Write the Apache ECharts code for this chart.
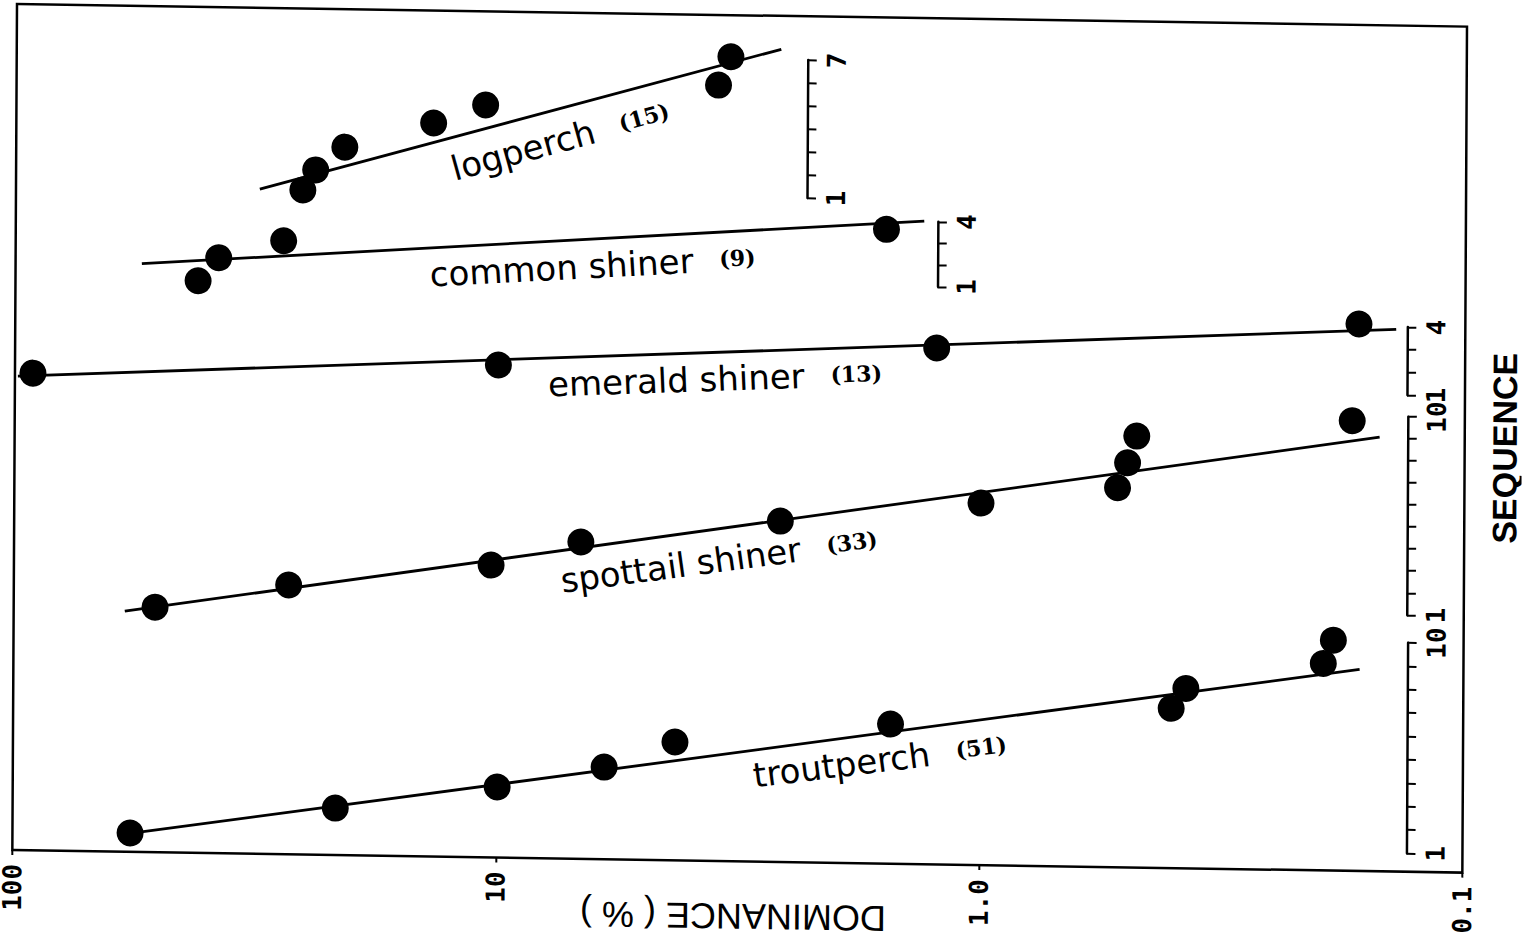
<!DOCTYPE html>
<html><head><meta charset="utf-8">
<script src="https://cdn.jsdelivr.net/npm/echarts@6/dist/echarts.min.js"></script>
<style>
html,body{margin:0;padding:0;background:#fff;overflow:hidden}
#c{width:1524px;height:942px;transform-origin:17px 4px;transform:matrix(1,0.0156,-0.0055,1,0,0)}
</style></head><body><div id="c"></div>
<script>
// ---- data ----
const dominanceTicks = [0.1, 1, 10, 100];
const dominanceTickLabels = ['0.1', '1.0', '10', '100'];
const speciesNames = ['logperch', 'common shiner', 'emerald shiner', 'spottail shiner', 'troutperch'];
const sampleCounts = ['(15)', '(9)', '(13)', '(33)', '(51)'];
const sequenceMax = [7, 4, 4, 10, 10];

const logperchDominance = [3.33, 3.53, 10.7, 13.7, 20.9, 24.0, 25.5];
const logperchSequence  = [7.09, 5.85, 4.83, 4.01, 2.90, 1.89, 1.01];
const logperchFitDominance = [31.3, 2.62];
const logperchFitSequence  = [1.02, 7.45];

const commonShinerDominance = [1.58, 27.9, 38.0, 41.9];
const commonShinerSequence  = [3.61, 2.65, 1.82, 0.74];
const commonShinerFitDominance = [54.8, 1.32];
const commonShinerFitSequence  = [1.49, 4.02];

const emeraldShinerDominance = [0.166, 1.24, 10.0, 91.8];
const emeraldShinerSequence  = [4.10, 2.75, 1.70, 1.02];
const emeraldShinerFitDominance = [98.6, 0.139];
const emeraldShinerFitSequence  = [0.88, 3.89];

const spottailShinerDominance = [0.171, 0.477, 0.498, 0.522, 1.0, 2.60, 6.72, 10.3, 27.0, 51.0];
const spottailShinerSequence  = [9.78, 8.93, 7.71, 6.57, 5.78, 4.82, 3.73, 2.62, 1.57, 0.47];
const spottailShinerFitDominance = [58.9, 0.150];
const spottailShinerFitSequence  = [0.27, 9.05];

const troutperchDominance = [0.186, 0.195, 0.375, 0.402, 1.53, 4.27, 5.98, 9.95, 21.5, 57.1];
const troutperchSequence  = [10.06, 9.06, 7.90, 7.04, 6.18, 5.27, 4.15, 3.23, 2.22, 1.02];
const troutperchFitDominance = [57.1, 0.164];
const troutperchFitSequence  = [1.0, 8.83];

// ---- layout (positions, not data) ----
const gridTops    = [47.7, 207.3, 305.3, 395.0, 621.0];
const gridHeights = [138.0, 65.0, 68.0, 198.3, 210.6];
const axisOffsets = [-659, -528, -58, -57, -56];
const labelPos    = [[561, 131.5], [594, 257], [717, 368], [722, 549], [884, 746.5]];
const labelAngles = [15.9, 3.9, 2.8, 8.4, 7.9];

const groups = [
  [logperchDominance, logperchSequence, logperchFitDominance, logperchFitSequence],
  [commonShinerDominance, commonShinerSequence, commonShinerFitDominance, commonShinerFitSequence],
  [emeraldShinerDominance, emeraldShinerSequence, emeraldShinerFitDominance, emeraldShinerFitSequence],
  [spottailShinerDominance, spottailShinerSequence, spottailShinerFitDominance, spottailShinerFitSequence],
  [troutperchDominance, troutperchSequence, troutperchFitDominance, troutperchFitSequence]
];

const tickFont = {fontFamily: 'DejaVu Sans Mono', fontWeight: 'bold', fontSize: 26, color: '#000'};
const GL = 17, GR = 57;

const grids = [{left: GL, right: GR, top: 4, height: 846, show: true, borderColor: '#000', borderWidth: 2.5,
  backgroundColor: 'transparent', containLabel: false, outerBoundsMode: 'none'}];
const xAxes = [{
  gridIndex: 0, type: 'log', logBase: 10, min: 0.1, max: 100, inverse: true, position: 'bottom',
  axisLine: {show: false, onZero: false},
  axisTick: {show: true, length: 5, lineStyle: {color: '#000', width: 2}},
  splitLine: {show: false}, minorTick: {show: false},
  axisLabel: Object.assign({rotate: 90, margin: 14, showMinLabel: true, showMaxLabel: true,
    formatter: v => { const k = dominanceTicks.findIndex(t => Math.abs(Math.log10(t) - Math.log10(v)) < 1e-6); return k >= 0 ? dominanceTickLabels[k] : ''; }}, tickFont)
}];
const yAxes = [{gridIndex: 0, type: 'value', min: 0, max: 1, show: false}];
const series = [];
const graphics = [];

groups.forEach((g, i) => {
  const gi = i + 1;
  const mx = sequenceMax[i];
  grids.push({left: GL, right: GR, top: gridTops[i], height: gridHeights[i], containLabel: false, outerBoundsMode: 'none'});
  xAxes.push({gridIndex: gi, type: 'log', logBase: 10, min: 0.1, max: 100, inverse: true, show: false, axisLine: {onZero: false}});
  yAxes.push({
    gridIndex: gi, type: 'value', min: 1, max: mx, interval: 1, position: 'right', offset: axisOffsets[i],
    axisLine: {show: true, onZero: false, lineStyle: {color: '#000', width: 2.5}},
    axisTick: {show: true, length: 9, lineStyle: {color: '#000', width: 2}},
    splitLine: {show: false},
    axisLabel: Object.assign({rotate: 90, margin: 16, showMinLabel: true, showMaxLabel: true,
      formatter: v => (v === 1 || v === mx) ? String(v) : ''}, tickFont)
  });
  series.push({
    type: 'line', xAxisIndex: gi, yAxisIndex: gi, clip: false, silent: true, symbol: 'none',
    lineStyle: {color: '#000', width: 2.8, opacity: 1},
    data: g[2].map((d, k) => [d, g[3][k]])
  });
  series.push({
    type: 'scatter', xAxisIndex: gi, yAxisIndex: gi, clip: false, silent: true, symbol: 'circle', symbolSize: 27,
    itemStyle: {color: '#000', opacity: 1},
    data: g[0].map((d, k) => [d, g[1][k]])
  });
  graphics.push({
    type: 'text', x: labelPos[i][0], y: labelPos[i][1], rotation: labelAngles[i] * Math.PI / 180, silent: true,
    style: {
      text: '{a|' + speciesNames[i] + '}{b|' + sampleCounts[i] + '}', align: 'center', verticalAlign: 'middle',
      rich: {
        a: {fontFamily: 'DejaVu Sans', fontSize: 34, fill: '#000'},
        b: {fontFamily: 'DejaVu Serif', fontWeight: 'bold', fontSize: 22, fill: '#000', padding: [0, 0, 1, 26]}
      }
    }
  });
});

graphics.push({
  type: 'text', x: 1507, y: 425, rotation: Math.PI / 2, silent: true,
  style: {text: 'SEQUENCE', align: 'center', verticalAlign: 'middle', fontFamily: 'Liberation Sans', fontWeight: 'bold', fontSize: 34, fill: '#000'}
});
graphics.push({
  type: 'text', x: 738, y: 905, rotation: Math.PI, silent: true,
  style: {text: 'DOMINANCE ( % )', align: 'center', verticalAlign: 'middle', fontFamily: 'Liberation Sans', fontSize: 36, fill: '#000'}
});

const chart = echarts.init(document.getElementById('c'), null, {renderer: 'svg', width: 1524, height: 942});
chart.setOption({
  animation: false,
  backgroundColor: '#fff',
  grid: grids, xAxis: xAxes, yAxis: yAxes, series: series, graphic: graphics
});
</script></body></html>
